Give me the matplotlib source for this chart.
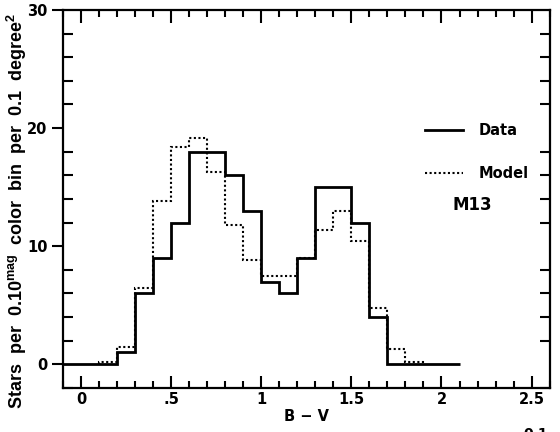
import matplotlib
matplotlib.use("Agg")
import matplotlib.pyplot as plt
import numpy as np
from matplotlib.ticker import MultipleLocator, FixedLocator

# Data (B-V histogram, 0.1 mag bins)
data_edges = np.round(np.arange(-0.1, 2.1001, 0.1), 2)
data_counts = [0, 0, 0, 1, 6, 9, 12, 18, 18, 16, 13, 7, 6, 9, 15, 15, 12, 4, 0, 0, 0, 0]
model_edges = np.round(np.arange(0.1, 1.9001, 0.1), 2)
model_counts = [0.2, 1.5, 6.5, 13.8, 18.4, 19.2, 16.3, 11.8, 8.8, 7.5, 7.5, 9.0,
                11.4, 13.0, 10.4, 4.8, 1.3, 0.2]

xtick_pos = [0, 0.5, 1, 1.5, 2, 2.5]
xtick_labels = ["0", ".5", "1", "1.5", "2", "2.5"]
ytick_pos = [0, 10, 20, 30]
ytick_labels = ["0", "10", "20", "30"]

plt.rcParams['font.family'] = ['DejaVu Sans']
plt.rcParams['mathtext.fontset'] = 'custom'
plt.rcParams['mathtext.rm'] = 'Liberation Sans:bold'
plt.rcParams['mathtext.bf'] = 'Liberation Sans:bold'
fig = plt.figure(figsize=(5.6, 4.32), dpi=100)
ax = fig.add_axes([0.1125, 0.102, 0.869, 0.875])

ax.stairs(data_counts, data_edges, baseline=None, color='black', lw=2.0, label='Data')
ax.stairs(model_counts, model_edges, baseline=0, color='black', lw=1.5,
          linestyle=(0, (1, 1.2)), label='Model')

ax.set_xlim(-0.1, 2.6)
ax.set_ylim(-2, 30)

for s in ax.spines.values():
    s.set_linewidth(1.6)

ax.xaxis.set_major_locator(FixedLocator(xtick_pos))
ax.xaxis.set_minor_locator(MultipleLocator(0.1))
ax.set_xticklabels(xtick_labels, fontsize=10.5, fontweight='bold')
ax.yaxis.set_major_locator(FixedLocator(ytick_pos))
ax.yaxis.set_minor_locator(MultipleLocator(2))
ax.set_yticklabels(ytick_labels, fontsize=10.5, fontweight='bold')

ax.tick_params(axis='x', which='major', direction='in', length=9, width=1.5,
               top=True, bottom=True, pad=3)
ax.tick_params(axis='x', which='minor', direction='in', length=5, width=1.5,
               top=True, bottom=True)
ax.tick_params(axis='y', which='major', direction='out', length=8, width=1.5,
               left=True, right=False, pad=3)
ax.tick_params(axis='y', which='minor', direction='in', length=7, width=1.5,
               left=True, right=True)

ax.set_xlabel("B \u2212 V", fontsize=10.5, fontweight='bold')
ax.xaxis.set_label_coords(0.5, -0.057)
ax.set_ylabel(r"Stars  per  0.10$^{\mathbf{mag}}$  color  bin  per  0.1  degree$^{\mathbf{2}}$",
              family=['Liberation Sans'], fontsize=13, fontweight='bold')
ax.yaxis.set_label_coords(-0.07, 0.468)

leg = ax.legend(loc='upper left', bbox_to_anchor=(0.717, 0.735), frameon=False,
                handlelength=2.6, handletextpad=1.1, labelspacing=1.9,
                prop={'size': 10.5, 'weight': 'bold'})
ax.text(0.80, 0.485, "M13", transform=ax.transAxes, fontsize=12, fontweight='bold',
        ha='left', va='center')

fig.text(0.935, -0.005, "0.1", fontsize=10, fontweight='bold', ha='left', va='center')

fig.savefig("out.png", dpi=100)
